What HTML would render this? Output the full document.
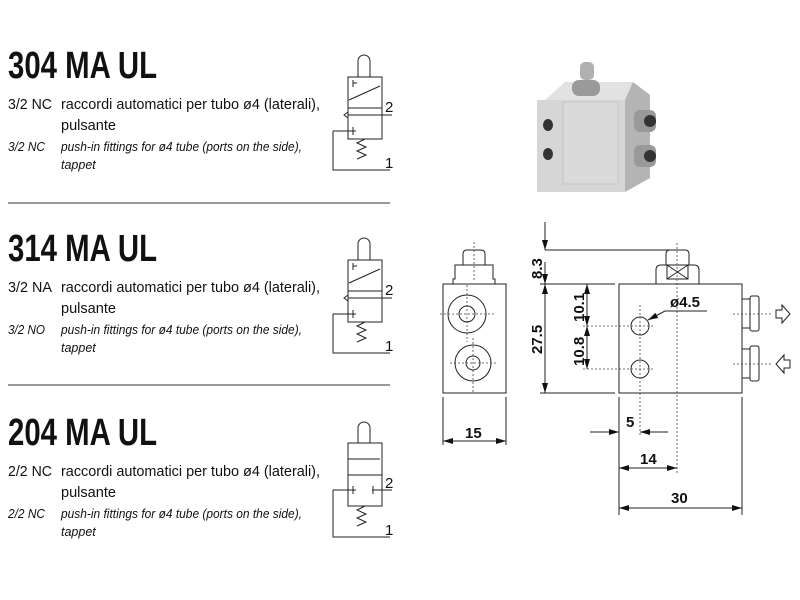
<!DOCTYPE html>
<html><head><style>
html,body{margin:0;padding:0;background:#fff;width:800px;height:600px;overflow:hidden}
svg{display:block}
.t{font-family:"Liberation Sans Narrow","Liberation Sans",sans-serif;fill:#111}
.h{font-weight:bold;font-size:38px}
.n{font-size:15px}
.i{font-size:12.5px;font-style:italic}
.d{font-family:"Liberation Sans",sans-serif;font-weight:bold;font-size:15px;fill:#111}
</style></head><body>
<svg width="800" height="600" viewBox="0 0 800 600" xmlns="http://www.w3.org/2000/svg">
<defs>
<marker id="a" viewBox="0 0 10 6" refX="10" refY="3" markerWidth="10" markerHeight="6" orient="auto-start-reverse" markerUnits="userSpaceOnUse"><path d="M0,0L10,3L0,6z" fill="#111"/></marker>
</defs>
<g class="t">
<text x="8" y="78" class="t h" textLength="149" lengthAdjust="spacingAndGlyphs">304 MA UL</text>
<text x="8" y="109" class="t n" textLength="44" lengthAdjust="spacingAndGlyphs">3/2 NC</text><text x="61" y="109" class="t n" textLength="259" lengthAdjust="spacingAndGlyphs">raccordi automatici per tubo ø4 (laterali),</text>
<text x="61" y="130" class="t n" textLength="55" lengthAdjust="spacingAndGlyphs">pulsante</text>
<text x="8" y="151" class="t i" textLength="37" lengthAdjust="spacingAndGlyphs">3/2 NC</text><text x="61" y="151" class="t i" textLength="241" lengthAdjust="spacingAndGlyphs">push-in fittings for ø4 tube (ports on the side),</text>
<text x="61" y="169" class="t i">tappet</text>

<text x="8" y="261" class="t h" textLength="149" lengthAdjust="spacingAndGlyphs">314 MA UL</text>
<text x="8" y="292" class="t n" textLength="44" lengthAdjust="spacingAndGlyphs">3/2 NA</text><text x="61" y="292" class="t n" textLength="259" lengthAdjust="spacingAndGlyphs">raccordi automatici per tubo ø4 (laterali),</text>
<text x="61" y="313" class="t n" textLength="55" lengthAdjust="spacingAndGlyphs">pulsante</text>
<text x="8" y="334" class="t i" textLength="37" lengthAdjust="spacingAndGlyphs">3/2 NO</text><text x="61" y="334" class="t i" textLength="241" lengthAdjust="spacingAndGlyphs">push-in fittings for ø4 tube (ports on the side),</text>
<text x="61" y="352" class="t i">tappet</text>

<text x="8" y="445" class="t h" textLength="149" lengthAdjust="spacingAndGlyphs">204 MA UL</text>
<text x="8" y="476" class="t n" textLength="44" lengthAdjust="spacingAndGlyphs">2/2 NC</text><text x="61" y="476" class="t n" textLength="259" lengthAdjust="spacingAndGlyphs">raccordi automatici per tubo ø4 (laterali),</text>
<text x="61" y="497" class="t n" textLength="55" lengthAdjust="spacingAndGlyphs">pulsante</text>
<text x="8" y="518" class="t i" textLength="37" lengthAdjust="spacingAndGlyphs">2/2 NC</text><text x="61" y="518" class="t i" textLength="241" lengthAdjust="spacingAndGlyphs">push-in fittings for ø4 tube (ports on the side),</text>
<text x="61" y="536" class="t i">tappet</text>
</g>
<g stroke="#333" stroke-width="1">
<line x1="8" y1="203" x2="390" y2="203"/>
<line x1="8" y1="385" x2="390" y2="385"/>
</g>

<!-- symbol 1 -->
<g fill="none" stroke="#222" stroke-width="1">
<path d="M358,77V61a6,6 0 0 1 12,0V77"/>
<rect x="348" y="77" width="34" height="62"/>
<line x1="348" y1="108" x2="382" y2="108"/>
<line x1="349" y1="100" x2="380" y2="86"/>
<path d="M353,80v7M353,83h4"/>
<line x1="348" y1="115" x2="392" y2="115"/>
<path d="M348,112l-4,3 4,3"/>
<path d="M333,131H356M353,127v8M333,131V170H390"/>
<path d="M365,139l-8,4 9,4 -9,4 9,4 -9,4"/>
</g>
<text x="385" y="112" class="t n">2</text><text x="385" y="168" class="t n">1</text>

<!-- symbol 2 -->
<g fill="none" stroke="#222" stroke-width="1">
<path d="M358,260V244a6,6 0 0 1 12,0V260"/>
<rect x="348" y="260" width="34" height="62"/>
<line x1="348" y1="291" x2="382" y2="291"/>
<line x1="349" y1="283" x2="380" y2="269"/>
<path d="M353,263v7M353,266h4"/>
<line x1="348" y1="298" x2="392" y2="298"/>
<path d="M348,295l-4,3 4,3"/>
<path d="M333,314H356M353,310v8M333,314V353H390"/>
<path d="M365,322l-8,4 9,4 -9,4 9,4 -9,4"/>
</g>
<text x="385" y="295" class="t n">2</text><text x="385" y="351" class="t n">1</text>

<!-- symbol 3 -->
<g fill="none" stroke="#222" stroke-width="1">
<path d="M358,443V428a6,6 0 0 1 12,0V443"/>
<rect x="348" y="443" width="34" height="63"/>
<line x1="348" y1="475" x2="382" y2="475"/>
<line x1="348" y1="459" x2="380" y2="459"/>
<path d="M333,490H356M353,486v8M372,490H392M373,486v8M333,490V537H390"/>
<path d="M365,506l-8,4 9,4 -9,4 9,4 -9,4"/>
</g>
<text x="385" y="488" class="t n">2</text><text x="385" y="535" class="t n">1</text>

<!-- photo -->
<g>
<polygon points="545,100 565,82 633,82 625,100" fill="#e2e2e2"/>
<polygon points="625,100 633,82 650,95 650,178 625,192" fill="#b4b4b4"/>
<rect x="537" y="100" width="88" height="92" fill="#d6d6d6"/>
<rect x="563" y="102" width="55" height="82" fill="#dadada" stroke="#c4c4c4"/>
<ellipse cx="548" cy="125" rx="5" ry="6" fill="#333"/>
<ellipse cx="548" cy="154" rx="5" ry="6" fill="#333"/>
<rect x="572" y="80" width="28" height="16" rx="7" fill="#9a9a9a"/>
<rect x="580" y="62" width="14" height="18" rx="5" fill="#b0b0b0"/>
<rect x="634" y="110" width="22" height="22" rx="6" fill="#999"/>
<circle cx="650" cy="121" r="6" fill="#333"/>
<rect x="634" y="145" width="22" height="22" rx="6" fill="#999"/>
<circle cx="650" cy="156" r="6" fill="#333"/>
</g>

<!-- left view -->
<g fill="none" stroke="#222" stroke-width="1">
<rect x="443" y="284" width="63" height="109"/>
<path d="M453,284v-5h2v-14h38v14h2v5"/>
<path d="M463,265v-11q0-4 4-4h14q4 0 4 4v11"/>
<circle cx="467" cy="314" r="19"/><circle cx="467" cy="314" r="8"/>
<circle cx="473" cy="363" r="18"/><circle cx="473" cy="363" r="7"/>
</g>
<g stroke="#444" stroke-width="0.8" stroke-dasharray="2,2" fill="none">
<line x1="474" y1="242" x2="474" y2="280"/>
<line x1="467" y1="285" x2="467" y2="342"/><line x1="440" y1="314" x2="494" y2="314"/>
<line x1="473" y1="338" x2="473" y2="392"/><line x1="450" y1="363" x2="498" y2="363"/>
</g>
<g stroke="#222" stroke-width="1" fill="none">
<line x1="443" y1="397" x2="443" y2="445"/><line x1="506" y1="397" x2="506" y2="445"/>
<line x1="443" y1="441" x2="506" y2="441" marker-start="url(#a)" marker-end="url(#a)"/>
</g>
<text x="465" y="438" class="d">15</text>

<!-- right view -->
<g fill="none" stroke="#222" stroke-width="1">
<rect x="619" y="284" width="123" height="109"/>
<path d="M656,284v-14q0-5 5-5h33q5 0 5 5v14"/>
<path d="M666,265v-11q0-4 4-4h15q4 0 4 4v11"/>
<rect x="667" y="265" width="21" height="14"/><path d="M667,265l21,14M688,265l-21,14"/>
<circle cx="640" cy="326" r="9"/><circle cx="640" cy="369" r="9"/>
<rect x="742" y="299" width="8" height="29"/><rect x="750" y="296" width="9" height="35" rx="2"/>
<rect x="742" y="349" width="8" height="29"/><rect x="750" y="346" width="9" height="35" rx="2"/>
<path d="M776,310h6v-5l8,9 -8,9v-5h-6z"/>
<path d="M790,360h-6v-5l-8,9 8,9v-5h6z"/>
</g>
<g stroke="#444" stroke-width="0.8" stroke-dasharray="2,2" fill="none">
<line x1="677" y1="243" x2="677" y2="473"/>
<line x1="640" y1="305" x2="640" y2="437"/>
<line x1="583" y1="326" x2="655" y2="326"/>
<line x1="583" y1="369" x2="655" y2="369"/>
<line x1="733" y1="314" x2="772" y2="314"/>
<line x1="733" y1="364" x2="772" y2="364"/>
</g>
<g stroke="#222" stroke-width="1" fill="none">
<line x1="545" y1="222" x2="545" y2="250" marker-end="url(#a)"/>
<line x1="545" y1="250" x2="672" y2="250"/>
<line x1="540" y1="284" x2="615" y2="284"/>
<line x1="540" y1="393" x2="615" y2="393"/>
<line x1="545" y1="284" x2="545" y2="393" marker-start="url(#a)" marker-end="url(#a)"/>
<line x1="545" y1="262" x2="545" y2="284" marker-end="url(#a)"/>
<line x1="587" y1="284" x2="587" y2="326" marker-start="url(#a)" marker-end="url(#a)"/>
<line x1="587" y1="326" x2="587" y2="369" marker-start="url(#a)" marker-end="url(#a)"/>
<line x1="707" y1="311" x2="665" y2="311"/><line x1="665" y1="311" x2="648" y2="320" marker-end="url(#a)"/>
<line x1="619" y1="397" x2="619" y2="515"/><line x1="742" y1="397" x2="742" y2="515"/>
<line x1="590" y1="432" x2="619" y2="432" marker-end="url(#a)"/>
<line x1="668" y1="432" x2="640" y2="432" marker-end="url(#a)"/>
<line x1="619" y1="468" x2="677" y2="468" marker-start="url(#a)" marker-end="url(#a)"/>
<line x1="619" y1="508" x2="742" y2="508" marker-start="url(#a)" marker-end="url(#a)"/>
</g>
<text class="d" transform="translate(542,279) rotate(-90)">8.3</text>
<text class="d" transform="translate(542,354) rotate(-90)">27.5</text>
<text class="d" transform="translate(584,322) rotate(-90)">10.1</text>
<text class="d" transform="translate(584,366) rotate(-90)">10.8</text>
<text x="670" y="307" class="d">ø4.5</text>
<text x="626" y="427" class="d">5</text>
<text x="640" y="464" class="d">14</text>
<text x="671" y="503" class="d">30</text>
</svg>
</body></html>
